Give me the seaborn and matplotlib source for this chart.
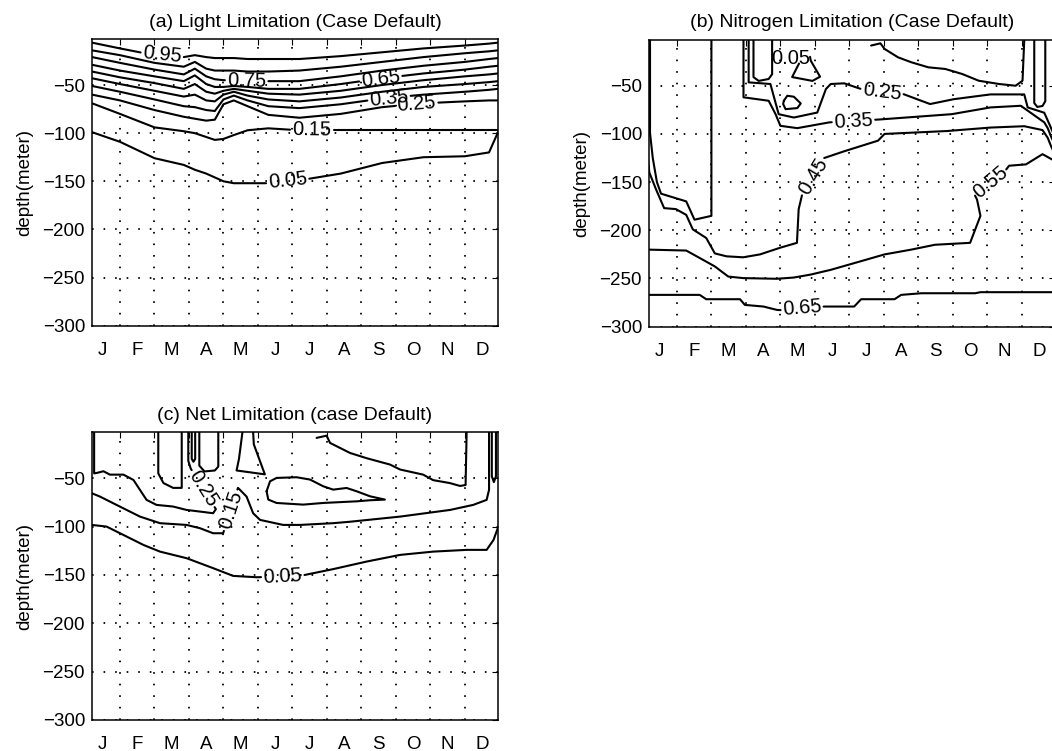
import numpy as np
import matplotlib
matplotlib.use("Agg")
import matplotlib.pyplot as plt
import seaborn as sns
from matplotlib.textpath import TextPath
from matplotlib.font_manager import FontProperties

sns.set_theme(style="white")
plt.rcParams.update({
    "axes.edgecolor": "black", "axes.linewidth": 1.0,
    "text.color": "black", "axes.labelcolor": "black",
    "xtick.color": "black", "ytick.color": "black",
})
plt.rcParams["font.family"] = ["Liberation Sans", "DejaVu Sans"]

# ---------------- axis data ----------------
MONTHS = ["J", "F", "M", "A", "M", "J", "J", "A", "S", "O", "N", "D"]
MONTH_POS = [0.5, 1.5, 2.5, 3.5, 4.5, 5.5, 6.5, 7.5, 8.5, 9.5, 10.5, 11.5]
GRID_X = [1, 2, 3, 4, 5, 6, 7, 8, 9, 10, 11]
DEPTH_TICKS = [-300, -250, -200, -150, -100, -50]
XLIM = (0.19, 11.96)
YLIM = (-300, -2.5)

# ---------------- (a) Light limitation: isoline depths ----------------
A_T = [0.19, 1.0, 2.0, 2.85, 3.17, 3.5, 3.75, 4.0, 4.3, 4.7, 5.3, 6.2, 7.4, 8.6, 9.8, 11.0, 11.7, 11.96]
A_095 = [-6, -12, -19, -21, -19, -21, -22, -22, -22, -23, -23, -23, -20, -16, -12, -9, -7, -6]
A_085 = [-14, -19, -27, -31, -26, -33, -35, -35, -35, -36, -36, -35, -31, -26, -21, -17, -15, -14]
A_075 = [-21, -27, -34, -39, -33, -41, -44, -45, -45, -46, -46, -46, -41, -35, -30, -26, -23, -22]
A_065 = [-29, -35, -41, -46, -40, -49, -52, -52, -51, -52, -54, -54, -49, -43, -38, -34, -31, -30]
A_055 = [-36, -42, -48, -54, -49, -57, -59, -56, -54, -56, -59, -60, -56, -50, -45, -41, -39, -38]
A_045 = [-43, -49, -56, -62, -60, -66, -67, -60, -57, -61, -65, -67, -63, -57, -52, -49, -47, -46]
A_035 = [-51, -57, -65, -72, -73, -76, -77, -65, -61, -66, -72, -74, -70, -64, -60, -57, -55, -54]
A_025 = [-60, -66, -76, -83, -85, -87, -86, -70, -66, -72, -81, -84, -80, -73, -69, -67, -66, -66]
A_015 = [-69, -80, -94, -98, -100, -104, -107, -106, -102, -97, -95, -97, -97, -97, -97, -97, -97, -97]
A_005 = [-99, -109, -126, -133, -138, -142, -146, -150, -152, -152, -152, -149, -142, -131, -125, -124, -120, -99]

# ---------------- (b) Nitrogen limitation ----------------
B_F_T = [0.22, 0.22, 0.3, 0.42, 0.54, 1.27, 1.51, 2.0, 2.0]
B_F_D = [-2.5, -99, -125, -150, -162, -170, -189, -185, -2.5]
B_045_T = [0.12, 0.2, 0.4, 0.63, 0.97, 1.27, 1.46, 1.85, 2.1, 2.44, 2.92, 3.41, 4.0, 4.48, 4.5, 4.53, 4.63,
           5.27, 5.85, 6.83, 7.02, 8.83, 10.09, 11.07, 11.6, 11.75, 11.85, 11.96]
B_045_D = [-112, -140, -158, -177, -178, -184, -199, -208, -224, -227, -228, -225, -218, -213, -199, -178, -163,
           -125, -118, -107, -100, -97, -93.4, -92, -96, -104, -113, -121]
B_055_T = [0.12, 1.27, 1.75, 2.1, 2.49, 2.92, 3.9, 4.39, 4.87, 5.46, 6.34, 7.02, 7.8, 8.48, 9.5, 9.8, 9.7, 9.6,
           10.48, 10.63, 11.12, 11.6, 11.85, 11.96]
B_055_D = [-220, -221, -230.5, -237.5, -248, -249.6, -250.3, -249, -246, -241, -232, -225, -220, -215, -213, -185,
           -168, -161, -140, -133, -131.6, -121, -126, -128]
B_065_T = [0.12, 1.66, 1.85, 2.83, 2.97, 3.51, 3.9, 4.63, 5.26, 6.14, 6.34, 7.31, 7.5, 8.09, 9.65, 9.8, 11.96]
B_065_D = [-267, -267, -271.5, -271.5, -277.4, -279.1, -282.6, -284, -279.1, -279.1, -271.5, -271.5, -267,
           -265.3, -265.3, -264.2, -264.2]
B_035_T = [2.93, 2.93, 3.66, 3.86, 4.0, 4.49, 5.42, 6.88, 8.97, 10.09, 10.97, 11.65, 11.75, 11.85, 11.96]
B_035_D = [-2.5, -62, -65.6, -79.5, -91.6, -94, -88, -85, -79.5, -72.5, -70.8, -88, -94, -103, -111]
B_025_T = [3.08, 3.08, 3.71, 3.95, 4.39, 5.07, 5.32, 5.46, 5.85, 6.34, 7.56, 8.34, 9.02, 10.09, 11.07, 11.17,
           11.65, 11.8, 11.92]
B_025_D = [-2.5, -46.5, -48.2, -79.5, -83, -77.8, -53.4, -48.2, -47.5, -53.4, -58.6, -69, -64, -59, -59, -72.5,
           -78, -90, -100]
B_LA_T = [3.22, 3.22, 3.37, 3.66, 3.76, 3.76]
B_LA_D = [-2.5, -41, -45, -43, -38, -2.5]
B_LB_T = [4.54, 4.34, 4.93, 5.15, 4.88, 4.86]
B_LB_D = [-27, -41, -45, -40.6, -24, -20]
B_LC_T = [4.1, 4.2, 4.39, 4.59, 4.49, 4.15, 4.08, 4.1]
B_LC_D = [-65.6, -60.4, -61.4, -68.4, -73.2, -74.3, -69, -65.6]
B_LD_T = [6.63, 6.9, 7.02, 7.41, 7.8, 8.29, 8.78, 9.27, 9.75, 10.34, 10.82, 11.02, 11.07]
B_LD_D = [-8.3, -6, -11.8, -20.5, -25.7, -30.9, -32.6, -37.8, -44.8, -48.2, -50, -44.8, -2.5]
B_LE_T = [11.36, 11.36, 11.45, 11.6, 11.68, 11.68]
B_LE_D = [-2.5, -68, -72, -71, -66, -2.5]

# ---------------- (c) Net limitation ----------------
C_005_T = [0.18, 0.61, 1.0, 1.68, 2.16, 2.93, 3.7, 4.28, 4.96, 5.72, 6.36, 7.18, 8.15, 9.12, 10.08, 11.05,
           11.63, 11.83, 11.97]
C_005_D = [-98.3, -100, -106.9, -119, -125.9, -132.7, -143, -151, -152.4, -151.7, -150, -144, -136.2, -129.3,
           -125.9, -124.1, -124.1, -113.8, -100]
C_015_T = [0.18, 0.42, 0.9, 1.58, 2.16, 2.93, 3.32, 3.7, 3.99, 4.42, 4.48, 4.67, 4.86, 5.06, 5.73, 6.22, 7.18,
           7.67, 9.12, 10.57, 11.24, 11.63, 11.7, 11.7]
C_015_D = [-65.5, -69, -77.6, -89.7, -96.5, -98.3, -101.7, -106.9, -106.9, -60, -62.1, -69, -86.2, -93.1, -98.3,
           -98.3, -96.5, -95, -89.7, -82.8, -77.6, -72.4, -62, -2.5]
C_025_T = [0.25, 0.25, 0.32, 0.52, 0.71, 1.1, 1.39, 1.58, 1.77, 2.06, 2.54, 2.93, 3.32, 3.7, 3.78, 3.05, 2.98, 2.98]
C_025_D = [-2.5, -45, -44.6, -42.8, -46.3, -46.3, -51.8, -62.1, -72.4, -77.6, -79.3, -82.8, -84.5, -86.2, -82,
           -40, -32, -2.5]
C_K1_T = [2.11, 2.11, 2.26, 2.54, 2.79, 2.79]
C_K1_D = [-2.5, -45, -55, -60, -60, -2.5]
C_K2_T = [3.08, 3.08, 3.13, 3.18, 3.18]
C_K2_D = [-2.5, -30, -33, -30, -2.5]
C_K3_T = [3.3, 3.3, 3.45, 3.75, 3.85, 3.85]
C_K3_D = [-2.5, -37, -43, -42, -38, -2.5]
C_K4_T = [4.55, 4.45, 4.38, 5.2, 4.88, 4.86]
C_K4_D = [-2.5, -30, -42, -46, -15, -2.5]
C_DG_T = [6.7, 6.99, 7.09, 7.67, 8.15, 8.83, 9.12, 9.79, 10.08, 10.56, 10.86, 11.02, 11.05]
C_DG_D = [-8.3, -6, -13.5, -23.9, -29.3, -35.9, -41, -46.3, -52, -55, -58, -57, -2.5]
C_LP_T = [5.25, 5.35, 5.54, 6.12, 6.51, 6.89, 7.18, 7.57, 7.86, 8.25, 8.68, 8.25, 7.86, 6.89, 6.31, 5.54, 5.3, 5.25]
C_LP_D = [-63.5, -53.2, -49.7, -49, -51.4, -58.3, -61.8, -60.1, -63.5, -68.7, -72.1, -72.8, -73.9, -75.6, -77.3,
          -75.6, -72.1, -63.5]
C_RT_T = [11.78, 11.78, 11.84, 11.9, 11.9]
C_RT_D = [-2.5, -48, -54, -48, -2.5]

# ---------------- figure ----------------
fig = plt.figure(figsize=(10.52, 7.51), dpi=100)
LABEL_FS = 14.5
LW = 1.5
TICK_FS = 13.5


def setup(ax, title):
    ax.set_xlim(*XLIM)
    ax.set_ylim(*YLIM)
    ax.set_xticks(GRID_X)
    ax.set_xticklabels([])
    ax.set_xticks(MONTH_POS, minor=True)
    ax.set_xticklabels(MONTHS, minor=True)
    ax.tick_params(axis="x", which="minor", length=0, pad=11.5, labelsize=TICK_FS)
    ax.tick_params(axis="x", which="major", length=4, direction="in", top=True, width=0.8)
    ax.set_yticks(DEPTH_TICKS)
    ax.tick_params(axis="y", which="major", length=4, direction="in", right=True,
                   labelsize=TICK_FS, pad=5, width=0.8)
    ax.grid(True, which="major", color="black", linestyle=(0, (0.9, 5.5)), linewidth=1.3)
    ax.set_ylabel("depth(meter)", fontsize=13.5, labelpad=7)
    ax.set_title(title, fontsize=14, pad=9)
    for sp in ax.spines.values():
        sp.set_visible(True)
        sp.set_color("black")
        sp.set_linewidth(1.1)


def contour_line(ax, t, d, label=None, at=None):
    t = np.asarray(t, float)
    d = np.asarray(d, float)
    kw = dict(ax=ax, sort=False, estimator=None, color="black", linewidth=LW)
    if label is None:
        sns.lineplot(x=t, y=d, **kw)
        return
    tr = ax.transData
    pts = tr.transform(np.column_stack([t, d]))
    seg = np.diff(pts, axis=0)
    L = np.hypot(seg[:, 0], seg[:, 1])
    s = np.concatenate([[0.0], np.cumsum(L)])
    p = tr.transform([at])[0]
    best_dist, best_s = np.inf, 0.0
    for i in range(len(L)):
        if L[i] == 0:
            continue
        v = seg[i]
        u = np.clip(np.dot(p - pts[i], v) / np.dot(v, v), 0, 1)
        q = pts[i] + u * v
        dist = np.hypot(*(p - q))
        if dist < best_dist:
            best_dist, best_s = dist, s[i] + u * L[i]
    fp = FontProperties(family="Liberation Sans", size=LABEL_FS)
    w_px = TextPath((0, 0), label, prop=fp).get_extents().width * fig.dpi / 72.0
    half = w_px / 2 + 3
    s0 = max(best_s - half, 0)
    s1 = min(best_s + half, s[-1])

    def at_s(sv):
        i = int(np.clip(np.searchsorted(s, sv) - 1, 0, len(L) - 1))
        f = (sv - s[i]) / L[i] if L[i] > 0 else 0.0
        return pts[i] + f * seg[i]

    p0, p1 = at_s(s0), at_s(s1)
    inv = tr.inverted()
    before = np.vstack([pts[s < s0], p0])
    after = np.vstack([p1, pts[s > s1]])
    for piece in (before, after):
        if len(piece) >= 2:
            dd = inv.transform(piece)
            sns.lineplot(x=dd[:, 0], y=dd[:, 1], **kw)
    ang = np.degrees(np.arctan2(p1[1] - p0[1], p1[0] - p0[0]))
    if ang > 90:
        ang -= 180
    elif ang <= -90:
        ang += 180
    mid = inv.transform([(p0 + p1) / 2])[0]
    ax.text(mid[0], mid[1], label, rotation=ang, rotation_mode="anchor", ha="center", va="center",
            fontsize=LABEL_FS, color="black", zorder=5)


# ---- panel (a)
axA = fig.add_axes([0.0875, 0.5663, 0.3859, 0.3814])
setup(axA, "(a) Light Limitation (Case Default)")
a_lines = [
    (A_095, "0.95", (2.22, -20)),
    (A_085, None, None),
    (A_075, "0.75", (4.67, -46.5)),
    (A_065, "0.65", (8.56, -43)),
    (A_055, None, None),
    (A_045, None, None),
    (A_035, "0.35", (8.8, -64)),
    (A_025, "0.25", (9.6, -69.5)),
    (A_015, "0.15", (6.56, -97)),
    (A_005, "0.05", (5.86, -149)),
]
for arr, lab, at in a_lines:
    contour_line(axA, A_T, arr, lab, at)

# ---- panel (b)
axB = fig.add_axes([0.6169, 0.5650, 0.3859, 0.3818])
setup(axB, "(b) Nitrogen Limitation (Case Default)")
for tt, dd in [(B_F_T, B_F_D), (B_LA_T, B_LA_D), (B_LB_T, B_LB_D), (B_LC_T, B_LC_D),
               (B_LD_T, B_LD_D), (B_LE_T, B_LE_D)]:
    contour_line(axB, tt, dd)
contour_line(axB, B_025_T, B_025_D, "0.25", (6.95, -55))
contour_line(axB, B_035_T, B_035_D, "0.35", (6.12, -87))
contour_line(axB, B_045_T, B_045_D, "0.45", (4.93, -144))
contour_line(axB, B_055_T, B_055_D, "0.55", (10.04, -150))
contour_line(axB, B_065_T, B_065_D, "0.65", (4.63, -283))
axB.text(4.31, -22, "0.05", ha="center", va="center", fontsize=LABEL_FS, color="black", zorder=5)

# ---- panel (c)
axC = fig.add_axes([0.0875, 0.0413, 0.3859, 0.3831])
setup(axC, "(c) Net Limitation (case Default)")
for tt, dd in [(C_K1_T, C_K1_D), (C_K2_T, C_K2_D), (C_K3_T, C_K3_D), (C_K4_T, C_K4_D),
               (C_DG_T, C_DG_D), (C_LP_T, C_LP_D), (C_RT_T, C_RT_D)]:
    contour_line(axC, tt, dd)
contour_line(axC, C_025_T, C_025_D, "0.25", (3.4, -61))
contour_line(axC, C_015_T, C_015_D, "0.15", (4.2, -83))
contour_line(axC, C_005_T, C_005_D, "0.05", (5.72, -151.7))

fig.savefig("out.png", dpi=100)
